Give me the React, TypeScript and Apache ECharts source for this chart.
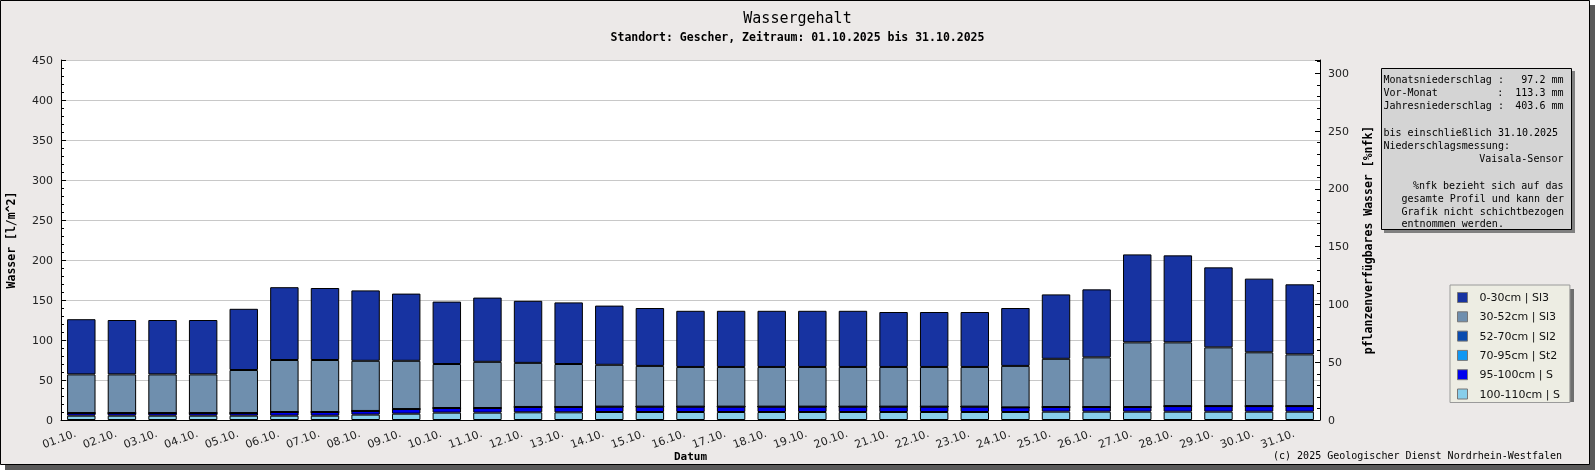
import React, { useEffect, useRef } from "react";
import * as echarts from "echarts";

const categories = [
  "01.10.", "02.10.", "03.10.", "04.10.", "05.10.", "06.10.", "07.10.", "08.10.",
  "09.10.", "10.10.", "11.10.", "12.10.", "13.10.", "14.10.", "15.10.", "16.10.",
  "17.10.", "18.10.", "19.10.", "20.10.", "21.10.", "22.10.", "23.10.", "24.10.",
  "25.10.", "26.10.", "27.10.", "28.10.", "29.10.", "30.10.", "31.10.",
];

// Layer values [l/m^2]
const layer0_30 = [
  69, 68, 68, 68, 76.5, 91, 90, 88, 84, 78, 80.3, 77.6, 77, 74, 72.4, 70.2,
  70.2, 70.2, 70.2, 70.2, 68.7, 68.7, 68.7, 72.4, 80.5, 85, 110, 108.8, 100, 92.1, 87.6,
];
const layer30_52 = [
  48.3, 48.3, 48.3, 48.3, 53.8, 65, 65, 62.7, 60.3, 55, 57.7, 55.1, 53.7, 52.3, 50.9, 49.6,
  49.6, 49.6, 49.6, 49.6, 49.6, 49.6, 49.6, 51.8, 60.3, 62.1, 80.8, 79.6, 73.4, 67.2, 64.6,
];
const layer52_70 = [
  0, 0, 0, 0, 0, 0, 0, 0, 0, 0, 0, 0, 0, 0, 0, 0,
  0, 0, 0, 0, 0, 0, 0, 0, 0, 0, 0, 0, 0, 0, 0,
];
const layer70_95 = [
  0, 0, 0, 0, 0, 0, 0, 0, 0, 0, 0, 0, 0, 0, 0, 0,
  0, 0, 0, 0, 0, 0, 0, 0, 0, 0, 0, 0, 0, 0, 0,
];
const layer95_100 = [
  3.3, 3.3, 3.3, 3.3, 3.3, 4.6, 4.6, 4.6, 5.8, 5.8, 5.8, 6.7, 6.7, 6.7, 6.7, 6.7,
  6.7, 6.7, 6.7, 6.7, 6.7, 6.7, 6.7, 5.8, 5.8, 5.8, 5.8, 7, 7, 7, 7,
];
const layer100_110 = [
  5.4, 5.4, 5.4, 5.4, 5.4, 5.4, 5.4, 6.7, 7.9, 9.2, 9.2, 9.6, 9.6, 10, 10, 10,
  10, 10, 10, 10, 10, 10, 10, 10, 10.4, 10.4, 10.4, 10.4, 10.4, 10.4, 10.4,
];

const layerNames = [
  "0-30cm | Sl3",
  "30-52cm | Sl3",
  "52-70cm | Sl2",
  "70-95cm | St2",
  "95-100cm | S",
  "100-110cm | S",
];
const layerColors = ["#1733a1", "#6f8fae", "#0a4bae", "#1197f3", "#0000ee", "#87ceeb"];
const layerData = [layer0_30, layer30_52, layer52_70, layer70_95, layer95_100, layer100_110];

const infoLeft = [
  { t: "Monatsniederschlag :", y: 79, indent: 0 },
  { t: "Vor-Monat", y: 92.3, indent: 0 },
  { t: "Jahresniederschlag :", y: 105.6, indent: 0 },
  { t: "bis einschließlich 31.10.2025", y: 132, indent: 0 },
  { t: "Niederschlagsmessung:", y: 145.3, indent: 0 },
  { t: "gesamte Profil und kann der", y: 198.3, indent: 3 },
  { t: "Grafik nicht schichtbezogen", y: 211.3, indent: 3 },
  { t: "entnommen werden.", y: 223.5, indent: 3 },
];
const infoRight = [
  { t: "97.2 mm", y: 79 },
  { t: ":  113.3 mm", y: 92.3 },
  { t: "403.6 mm", y: 105.6 },
  { t: "Vaisala-Sensor", y: 158.6 },
  { t: "%nfk bezieht sich auf das", y: 185.2 },
];

const MONO = "'DejaVu Sans Mono', monospace";
const SANS = "'DejaVu Sans', sans-serif";

export default function App() {
  const ref = useRef<HTMLDivElement>(null);
  useEffect(() => {
    if (!ref.current) return;
    const chart = echarts.init(ref.current, undefined, { renderer: "svg" });

    const series: any[] = [];
    for (let i = layerNames.length - 1; i >= 0; i--) {
      series.push({
        name: layerNames[i],
        type: "bar",
        stack: "w",
        data: layerData[i],
        barWidth: "70%",
        itemStyle: { color: layerColors[i], borderColor: "#000", borderWidth: 1 },
        emphasis: { disabled: true },
      });
    }

    const graphic: any[] = [
      { type: "rect", z: -100, shape: { x: 5, y: 5, width: 1590, height: 465 }, style: { fill: "#595959" } },
      { type: "rect", z: -99, shape: { x: 0.5, y: 0.5, width: 1589, height: 464 }, style: { fill: "#ECE9E8", stroke: "#000", lineWidth: 1 } },
      // info box
      { type: "rect", z: 1, shape: { x: 1384, y: 71, width: 191, height: 162 }, style: { fill: "#808080" } },
      { type: "rect", z: 2, shape: { x: 1381.5, y: 68.5, width: 190, height: 161 }, style: { fill: "#D4D4D4", stroke: "#000", lineWidth: 1 } },
      // legend shadow
      { type: "rect", z: 1, shape: { x: 1454, y: 289, width: 120, height: 113 }, style: { fill: "#6e6e6e" } },
      // copyright
      {
        type: "text", z: 5, x: 1562, y: 455,
        style: { text: "(c) 2025 Geologischer Dienst Nordrhein-Westfalen", font: `10px ${MONO}`, fill: "#000", align: "right", verticalAlign: "middle" },
      },
    ];
    infoLeft.forEach((l) => {
      graphic.push({
        type: "text", z: 5, x: 1383.5 + l.indent * 6.02, y: l.y,
        style: { text: l.t, font: `10px ${MONO}`, fill: "#000", align: "left", verticalAlign: "middle" },
      });
    });
    infoRight.forEach((l) => {
      graphic.push({
        type: "text", z: 5, x: 1563.5, y: l.y,
        style: { text: l.t, font: `10px ${MONO}`, fill: "#000", align: "right", verticalAlign: "middle" },
      });
    });

    chart.setOption({
      animation: false,
      backgroundColor: "transparent",
      title: [
        {
          text: "Wassergehalt", left: "center", top: 5,
          textStyle: { fontFamily: MONO, fontSize: 15, fontWeight: "normal", color: "#000" },
        },
        {
          text: "Standort: Gescher, Zeitraum: 01.10.2025 bis 31.10.2025", left: "center", top: 26,
          textStyle: { fontFamily: MONO, fontSize: 11.5, fontWeight: "bold", color: "#000" },
        },
      ],
      legend: {
        data: layerNames,
        orient: "vertical",
        left: 1450,
        top: 285,
        padding: [7, 10, 3, 7],
        itemWidth: 10,
        itemHeight: 10,
        itemGap: 8.3,
        selectedMode: false,
        backgroundColor: "#EDEDE3",
        borderColor: "#9a9a9a",
        borderWidth: 1,
        icon: "rect",
        itemStyle: { borderColor: "#777", borderWidth: 1 },
        textStyle: { fontFamily: SANS, fontSize: 11, color: "#111", padding: [0, 0, 0, 7], lineHeight: 10 },
        z: 4,
      },
      grid: {
        left: 61, right: 275, top: 60, bottom: 50,
        containLabel: false,
        outerBoundsMode: "none",
        show: true, backgroundColor: "#fff", borderWidth: 0,
      },
      xAxis: {
        type: "category",
        data: categories,
        name: "Datum",
        nameLocation: "middle",
        nameGap: 31,
        nameMoveOverlap: false,
        nameTextStyle: { fontFamily: MONO, fontSize: 11, fontWeight: "bold", color: "#000" },
        axisLine: { lineStyle: { color: "#000" } },
        axisTick: { inside: true, length: 5, lineStyle: { color: "#000" } },
        axisLabel: {
          rotate: 20, interval: 0, fontFamily: SANS, fontSize: 11, color: "#222",
          margin: 11, padding: [0, 6, 0, 0],
        },
      },
      yAxis: [
        {
          type: "value", min: 0, max: 450, interval: 50, position: "left",
          name: "Wasser [l/m^2]", nameLocation: "middle", nameGap: 44, nameRotate: 90,
          nameMoveOverlap: false,
          nameTextStyle: { fontFamily: MONO, fontSize: 11.5, fontWeight: "bold", color: "#000" },
          axisLine: { show: true, lineStyle: { color: "#000" } },
          axisTick: { show: true, inside: true, length: 5, lineStyle: { color: "#000" } },
          minorTick: { show: true, splitNumber: 5, length: 3, lineStyle: { color: "#000" } },
          splitLine: { show: true, lineStyle: { color: "#c8c8c8", width: 1 } },
          axisLabel: { fontFamily: SANS, fontSize: 11, color: "#222", margin: 8 },
        },
        {
          type: "value", min: 0, max: 311.5, interval: 50, position: "right",
          name: "pflanzenverfügbares Wasser [%nfk]", nameLocation: "middle", nameGap: 42, nameRotate: 90,
          nameMoveOverlap: false,
          nameTextStyle: { fontFamily: MONO, fontSize: 11.5, fontWeight: "bold", color: "#000" },
          axisLine: { show: true, lineStyle: { color: "#000" } },
          axisTick: { show: true, inside: true, length: 5, lineStyle: { color: "#000" } },
          minorTick: { show: true, splitNumber: 5, length: 3, lineStyle: { color: "#000" } },
          splitLine: { show: false },
          axisLabel: { fontFamily: SANS, fontSize: 11, color: "#222", margin: 8, showMaxLabel: false },
        },
      ],
      series,
      graphic,
    });
    return () => chart.dispose();
  }, []);

  return (
    <div
      ref={ref}
      style={{ position: "fixed", left: 0, top: 0, width: 1595, height: 470 }}
    />
  );
}
